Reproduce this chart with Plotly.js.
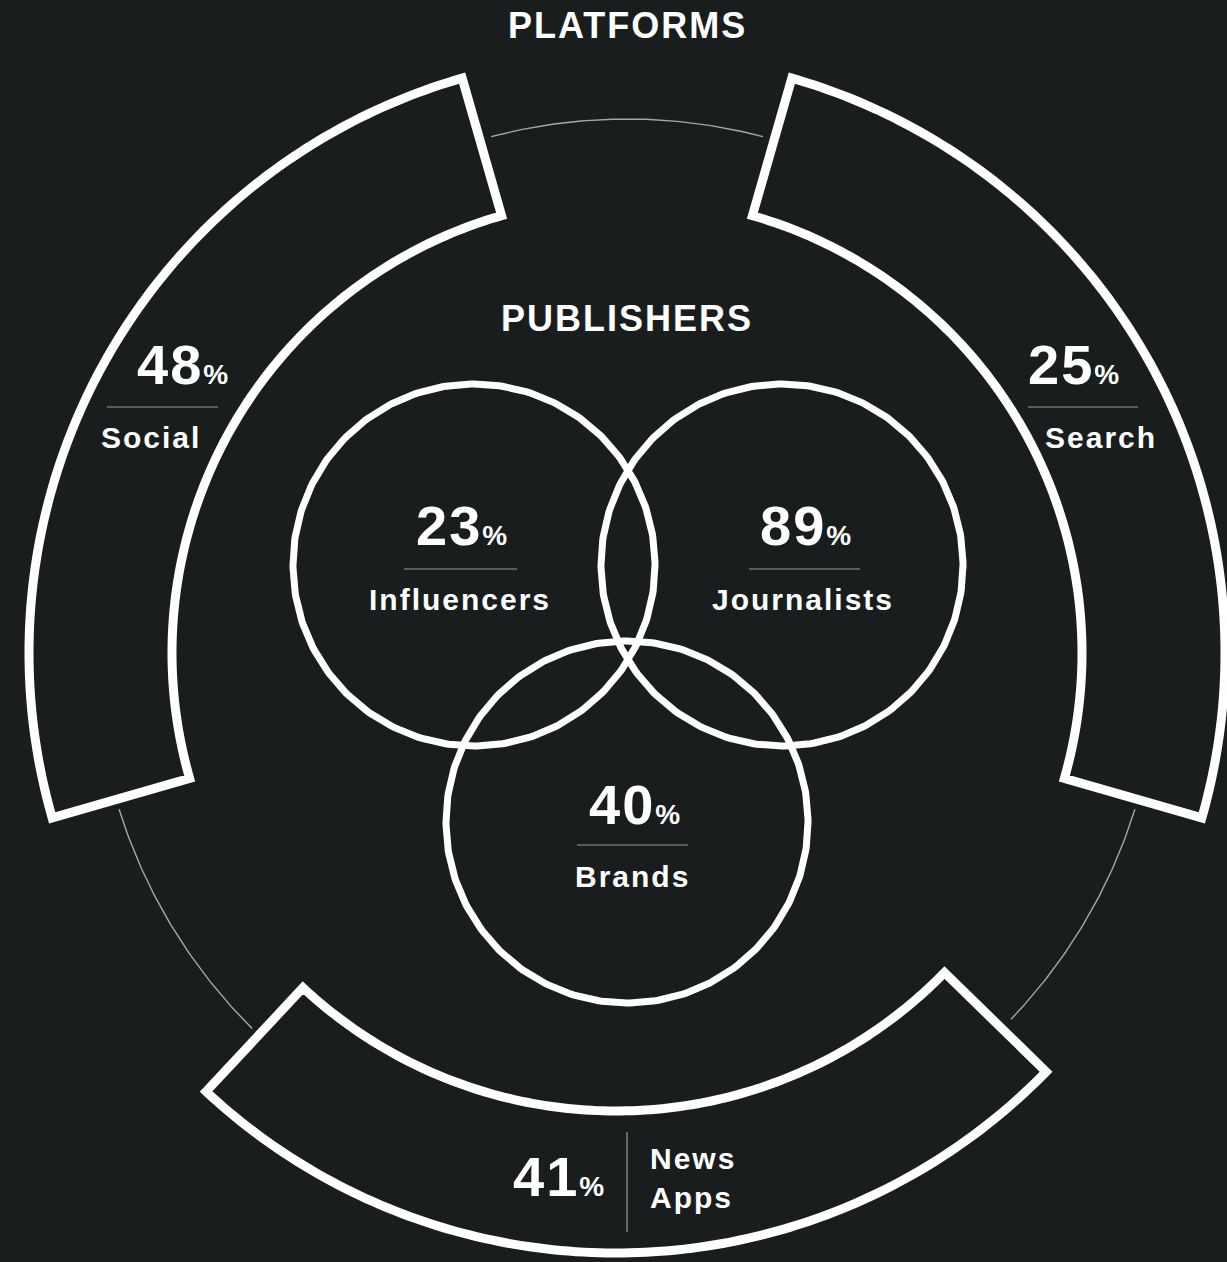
<!DOCTYPE html>
<html>
<head>
<meta charset="utf-8">
<script src="https://cdn.plot.ly/plotly-3.0.1.min.js"></script>
<style>
  html, body { margin: 0; padding: 0; background: #1a1d1e; }
  #chart { width: 1227px; height: 1262px; }
  .annotation-text { letter-spacing: 2px; }
</style>
</head>
<body>
<div id="chart"></div>
<script>
// ---------- data ----------
const outerTitle = 'PLATFORMS';
const innerTitle = 'PUBLISHERS';
const platforms = ['Social', 'Search', 'News Apps'];
const platformValues = [48, 25, 41];
const publishers = ['Influencers', 'Journalists', 'Brands'];
const publisherValues = [23, 89, 40];

// ---------- layout geometry (pixels, y downwards) ----------
const W = 1227, H = 1262;
const CX = 627, CY = 652;
const R_GUIDE = 532;
const segAngles = [[-106, -16], [16, 106], [134.3, 223]];   // compass degrees
const segCenters = [[627, 653], [627, 653], [616, 652]];
const segRadii = [[455, 598], [455, 598], [459, 601]];
const guideArcs = [[-14.8, 14.8], [107.3, 133.8], [224.8, 252.7]];
const vennCenters = [[474, 565], [782, 565], [627, 822]];
const VENN_R = 181;

const BG = '#1a1d1e';
const WHITE = '#ffffff';
const FONT = 'Liberation Sans, Arial, Helvetica, sans-serif';

function arc(cx, cy, r, a0, a1, n) {
  const xs = [], ys = [];
  for (let i = 0; i <= n; i++) {
    const a = (a0 + (a1 - a0) * i / n) * Math.PI / 180;
    xs.push(cx + r * Math.sin(a)); ys.push(cy - r * Math.cos(a));
  }
  return [xs, ys];
}

const traces = [];
// thin guide arcs in the gaps between segments
guideArcs.forEach(g => {
  const [xs, ys] = arc(CX, CY - 1, R_GUIDE, g[0], g[1], 60);
  traces.push({type: 'scatter', mode: 'lines', x: xs, y: ys,
    line: {color: '#a8a8a8', width: 1.4}, hoverinfo: 'skip', showlegend: false});
});
// outer annular segments
platforms.forEach((p, i) => {
  const [a0, a1] = segAngles[i];
  const [cx, cy] = segCenters[i];
  const [rin, rout] = segRadii[i];
  const [ox, oy] = arc(cx, cy, rout, a0, a1, 120);
  const [ix, iy] = arc(cx, cy, rin, a1, a0, 120);
  const xs = ox.concat(ix, [ox[0], ox[1]]);
  const ys = oy.concat(iy, [oy[0], oy[1]]);
  traces.push({type: 'scatter', mode: 'lines', x: xs, y: ys, fill: 'toself',
    fillcolor: BG, line: {color: WHITE, width: 9, simplify: false},
    hoverinfo: 'skip', showlegend: false, name: p});
});
// venn circles
publishers.forEach((p, i) => {
  const [cx, cy] = vennCenters[i];
  const xs = [], ys = [];
  for (let k = 0; k <= 361; k++) {
    const a = k * Math.PI / 180;
    xs.push(cx + VENN_R * Math.cos(a)); ys.push(cy + VENN_R * Math.sin(a));
  }
  traces.push({type: 'scatter', mode: 'lines', x: xs, y: ys,
    line: {color: WHITE, width: 7}, hoverinfo: 'skip', showlegend: false, name: p});
});

// ---------- text placement ----------
const platformNumPos = [[183, 364, 'center'], [1074, 364, 'center'], [608, 1176, 'right']];
const platformLblPos = [[151, 437, 'center'], [1101, 437, 'center'], [648, 1178, 'left']];
const platformDividers = [[107, 407, 218, 407], [1028, 407, 1138, 407], [627, 1132, 627, 1232]];
const publisherNumPos = [[462, 525], [806, 525], [635, 804]];
const publisherLblPos = [[460, 599], [803, 599], [632, 876]];
const publisherDividers = [[404, 569, 517, 569], [749, 569, 860, 569], [577, 845, 688, 845]];

function numText(v) {
  return v + '<span style="font-size:28px">%</span>';
}

const annotations = [];
annotations.push({x: CX, y: 25, xref: 'x', yref: 'y', text: outerTitle, showarrow: false,
  xanchor: 'center', yanchor: 'middle', font: {family: FONT, size: 36, color: WHITE, weight: 700}});
annotations.push({x: CX, y: 318, xref: 'x', yref: 'y', text: innerTitle, showarrow: false,
  xanchor: 'center', yanchor: 'middle', font: {family: FONT, size: 36, color: WHITE, weight: 700}});

platforms.forEach((p, i) => {
  const [nx, ny, na] = platformNumPos[i];
  annotations.push({x: nx, y: ny, xref: 'x', yref: 'y', text: numText(platformValues[i]),
    showarrow: false, xanchor: na, yanchor: 'middle', align: na,
    font: {family: FONT, size: 56, color: WHITE, weight: 700}});
  const [lx, ly, la] = platformLblPos[i];
  annotations.push({x: lx, y: ly, xref: 'x', yref: 'y', text: p.split(' ').join('<br>'),
    showarrow: false, xanchor: la, yanchor: 'middle', align: la,
    font: {family: FONT, size: 30, color: WHITE, weight: 700}});
});
publishers.forEach((p, i) => {
  const [nx, ny] = publisherNumPos[i];
  annotations.push({x: nx, y: ny, xref: 'x', yref: 'y', text: numText(publisherValues[i]),
    showarrow: false, xanchor: 'center', yanchor: 'middle',
    font: {family: FONT, size: 56, color: WHITE, weight: 700}});
  const [lx, ly] = publisherLblPos[i];
  annotations.push({x: lx, y: ly, xref: 'x', yref: 'y', text: p,
    showarrow: false, xanchor: 'center', yanchor: 'middle',
    font: {family: FONT, size: 30, color: WHITE, weight: 700}});
});

const shapes = platformDividers.concat(publisherDividers).map(d => ({
  type: 'line', xref: 'x', yref: 'y', x0: d[0], y0: d[1], x1: d[2], y1: d[3],
  line: {color: '#9a9a9a', width: 1.2}, layer: 'above'
}));

const layout = {
  width: W, height: H,
  margin: {l: 0, r: 0, t: 0, b: 0, pad: 0},
  paper_bgcolor: BG, plot_bgcolor: BG,
  xaxis: {range: [0, W], visible: false, fixedrange: true},
  yaxis: {range: [H, 0], visible: false, fixedrange: true},
  showlegend: false,
  annotations: annotations,
  shapes: shapes
};

Plotly.newPlot('chart', traces, layout, {displayModeBar: false, staticPlot: true});
</script>
</body>
</html>
